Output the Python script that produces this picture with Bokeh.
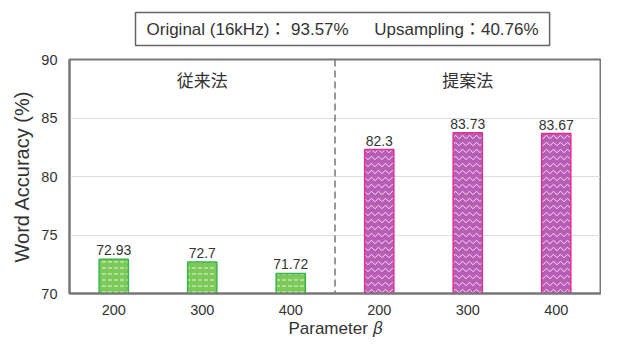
from bokeh.plotting import figure
from bokeh.models import Range1d, Span, Title, ColumnDataSource, FixedTicker
from bokeh.core.properties import value
from bokeh.embed import file_html
from bokeh.resources import INLINE

# ---- data ----
beta_labels = ["200", "300", "400"]
conv_values = [72.93, 72.7, 71.72]
prop_values = [82.3, 83.73, 83.67]
group_names = ["従来法", "提案法"]
info_text = "Original (16kHz)： 93.57%\u3000\u2002Upsampling：40.76%"
y_ticks = [70, 75, 80, 85, 90]

FONT = "Liberation Sans"
MIXED = "'Liberation Sans', 'Noto Sans CJK JP'"
JP = "Noto Sans CJK JP"
AX = "#777777"
TXT = "#333333"

n_conv = len(conv_values)
conv_x = [i + 1 for i in range(n_conv)]
prop_x = [n_conv + i + 1 for i in range(len(prop_values))]
all_x = conv_x + prop_x
all_labels = beta_labels + beta_labels

p = figure(width=601, height=340, x_range=Range1d(0.5, len(all_x) + 0.5),
           y_range=Range1d(70, 90), output_backend="svg", toolbar_location=None,
           min_border_left=69, min_border_right=1, min_border_top=0, min_border_bottom=0)

p.add_layout(Title(text=info_text, align="left", vertical_align="top", offset=66,
                   text_font=MIXED, text_font_size="17px",
                   text_font_style="normal", text_color=TXT,
                   border_line_color="#666666", border_line_width=1.5,
                   background_fill_color="white",
                   padding=dict(left=11, right=11, top=7, bottom=7), standoff=24), "above")

conv_src = ColumnDataSource(dict(x=conv_x, top=conv_values, lab=[str(v) for v in conv_values]))
prop_src = ColumnDataSource(dict(x=prop_x, top=prop_values, lab=[str(v) for v in prop_values]))

p.vbar(x="x", top="top", bottom=70, width=0.33, source=conv_src,
       fill_color="#7CC95A", line_color="#35B54A", line_width=1.5,
       hatch_pattern="horizontal_dash", hatch_color="white", hatch_alpha=0.8, hatch_scale=6, hatch_weight=1)
p.vbar(x="x", top="top", bottom=70, width=0.33, source=prop_src,
       fill_color="#B85DB5", line_color="#E52E90", line_width=1.5,
       hatch_pattern="horizontal_wave", hatch_color="white", hatch_alpha=0.8, hatch_scale=7, hatch_weight=1)

for src in (conv_src, prop_src):
    p.text(x="x", y="top", text="lab", source=src, text_align="center", text_baseline="bottom",
           y_offset=-4, text_font=value(FONT), text_font_size="14px", text_color=TXT)

# divider between groups
p.add_layout(Span(location=n_conv + 0.5, dimension="height", line_color="#777777",
                  line_width=1.5, line_dash="7 4"))

# group names
p.text(x=[(conv_x[0] + conv_x[-1]) / 2, (prop_x[0] + prop_x[-1]) / 2], y=[88.3, 88.3],
       text=group_names, text_align="center", text_baseline="middle",
       text_font=value(JP), text_font_size="17px", text_color=TXT)

# axes styling
p.xaxis.ticker = FixedTicker(ticks=all_x)
p.xaxis.major_label_overrides = {x: lab for x, lab in zip(all_x, all_labels)}
p.xaxis.axis_label = "Parameter 𝛽"
p.yaxis.axis_label = "Word Accuracy (%)"
p.yaxis.ticker = FixedTicker(ticks=y_ticks)
for ax in (p.xaxis[0], p.yaxis[0]):
    ax.axis_line_color = AX
    ax.axis_line_width = 2
    ax.major_tick_line_color = None
    ax.minor_tick_line_color = None
    ax.major_label_text_font = FONT
    ax.major_label_text_font_size = "14.5px"
    ax.major_label_text_color = TXT
    ax.axis_label_text_font = "'Liberation Sans', 'DejaVu Sans'"
    ax.axis_label_text_font_style = "normal"
    ax.axis_label_text_color = TXT
p.xaxis.major_label_standoff = 5
p.xaxis.axis_label_standoff = 1
p.xaxis.axis_label_text_font_size = "17px"
p.yaxis.major_label_standoff = 6
p.yaxis.axis_label_standoff = 5
p.yaxis.axis_label_text_font_size = "20px"

p.xgrid.grid_line_color = None
p.ygrid.grid_line_color = "#dddddd"
p.outline_line_color = AX
p.outline_line_width = 2
p.outline_line_alpha = 1

open("out.html", "w").write(file_html(p, INLINE))
